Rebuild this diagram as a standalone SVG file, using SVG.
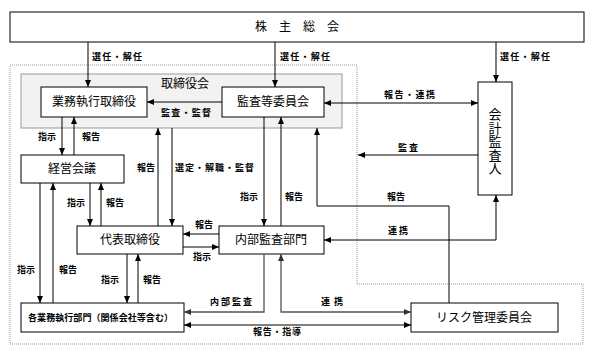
<svg xmlns="http://www.w3.org/2000/svg" width="595" height="363" viewBox="0 0 595 363">
<defs>
<marker id="ah" markerUnits="userSpaceOnUse" markerWidth="7" markerHeight="6" refX="7" refY="3" orient="auto-start-reverse"><path d="M0,0 L7,3 L0,6 z" fill="#000"/></marker>
<marker id="ahg" markerUnits="userSpaceOnUse" markerWidth="7" markerHeight="6" refX="7" refY="3" orient="auto-start-reverse"><path d="M0,0 L7,3 L0,6 z" fill="#333"/></marker>
</defs>
<style>
.box{fill:#fff;stroke:#000;stroke-width:1}
.nt{font-family:"Noto Sans CJK JP","Noto Sans",sans-serif;font-size:12px;fill:#000;text-anchor:middle}
.lb{font-family:"Noto Sans CJK JP","Noto Sans",sans-serif;font-size:9px;font-weight:bold;fill:#000}
.c{fill:none;stroke:#000;stroke-width:1;marker-end:url(#ah)}
.c2{fill:none;stroke:#000;stroke-width:1;marker-start:url(#ah);marker-end:url(#ah)}
.g2{fill:none;stroke:#555;stroke-width:1.3;marker-start:url(#ahg);marker-end:url(#ahg)}
.g1{fill:none;stroke:#555;stroke-width:1.3;marker-end:url(#ahg)}
</style>
<rect width="595" height="363" fill="#fff"/>
<g id="region">
<path d="M10,65 H357 V284 H583 V344 H10 Z" fill="none" stroke="#999" stroke-width="1" stroke-dasharray="1 1"/>
</g>
<g id="torishimariyakukai">
<rect x="21" y="74" width="321" height="54" fill="#f2f2f2" stroke="#999" stroke-width="1"/>
<text class="nt" x="185" y="88">取締役会</text>
</g>
<g id="kabunushi">
<rect class="box" x="10" y="12" width="574" height="30"/>
<text class="nt" x="297" y="31">株　主　総　会</text>
</g>
<g id="gyomu-torishimari">
<rect class="box" x="41" y="87" width="106" height="30"/>
<text class="nt" x="94" y="106">業務執行取締役</text>
</g>
<g id="kansa-iinkai">
<rect class="box" x="222" y="87" width="102" height="30"/>
<text class="nt" x="273" y="106">監査等委員会</text>
</g>
<g id="kaikei">
<rect class="box" x="478" y="82" width="34" height="113"/>
<text x="495" y="108" font-family="'Noto Sans CJK JP','Noto Sans',sans-serif" font-size="13" writing-mode="vertical-rl" letter-spacing="0.5" fill="#000">会計監査人</text>
</g>
<g id="keiei-kaigi">
<rect class="box" x="21" y="155" width="103" height="28"/>
<text class="nt" x="72" y="173">経営会議</text>
</g>
<g id="daihyo">
<rect class="box" x="77" y="226" width="106" height="28"/>
<text class="nt" x="130" y="244">代表取締役</text>
</g>
<g id="naibu-kansa">
<rect class="box" x="219" y="226" width="105" height="28"/>
<text class="nt" x="271" y="244">内部監査部門</text>
</g>
<g id="kaku-gyomu">
<rect class="box" x="21" y="303" width="163" height="29"/>
<text class="lb" x="28" y="321" textLength="145" lengthAdjust="spacing" font-weight="normal">各業務執行部門（関係会社等含む）</text>
</g>
<g id="risk">
<rect class="box" x="411" y="303" width="147" height="29"/>
<text class="nt" x="484" y="322">リスク管理委員会</text>
</g>
<g id="connectors">
<path class="c" d="M88,42 V87"/>
<path class="c" d="M275,42 V87"/>
<path class="c" d="M496,42 V82"/>
<path class="c" d="M222,102 H147"/>
<path class="c2" d="M324,103 H478"/>
<path class="c" d="M478,155 H358"/>
<path class="c" d="M62,117 V155"/>
<path class="c" d="M74,155 V117"/>
<path class="c" d="M90,183 V226"/>
<path class="c" d="M101,226 V183"/>
<path class="c" d="M158,226 V128"/>
<path class="c" d="M172,128 V226"/>
<path class="c" d="M264,117 V226"/>
<path class="c" d="M281,226 V117"/>
<path class="c" d="M449,303 V206 H317 V128"/>
<path class="c2" d="M324,240 H496 V195"/>
<path class="c" d="M219,234 H183"/>
<path class="c" d="M183,247 H219"/>
<path class="c" d="M40,183 V303"/>
<path class="c" d="M53,303 V183"/>
<path class="c" d="M127,254 V303"/>
<path class="c" d="M138,303 V254"/>
<path class="g1" d="M264,254 V312 H184"/>
<path class="g2" d="M411,312 H281 V254"/>
<path class="c2" d="M184,325 H411"/>
</g>
<g id="labels">
<text class="lb" x="92" y="60" textLength="50" lengthAdjust="spacing">選任・解任</text>
<text class="lb" x="280" y="60" textLength="50" lengthAdjust="spacing">選任・解任</text>
<text class="lb" x="500" y="60" textLength="50" lengthAdjust="spacing">選任・解任</text>
<text class="lb" x="161" y="116" textLength="50" lengthAdjust="spacing">監査・監督</text>
<text class="lb" x="384" y="98" textLength="51" lengthAdjust="spacing">報告・連携</text>
<text class="lb" x="398" y="151" textLength="20" lengthAdjust="spacing">監査</text>
<text class="lb" x="38" y="140">指示</text>
<text class="lb" x="82" y="140">報告</text>
<text class="lb" x="137" y="171">報告</text>
<text class="lb" x="175" y="171" textLength="79" lengthAdjust="spacing">選定・解職・監督</text>
<text class="lb" x="67" y="206">指示</text>
<text class="lb" x="106" y="206">報告</text>
<text class="lb" x="240" y="200">指示</text>
<text class="lb" x="285" y="200">報告</text>
<text class="lb" x="387" y="200">報告</text>
<text class="lb" x="195" y="228">報告</text>
<text class="lb" x="193" y="260">指示</text>
<text class="lb" x="388" y="234" textLength="20" lengthAdjust="spacing">連携</text>
<text class="lb" x="17" y="273">指示</text>
<text class="lb" x="59" y="273">報告</text>
<text class="lb" x="101" y="283">指示</text>
<text class="lb" x="143" y="283">報告</text>
<text class="lb" x="210" y="305" textLength="42" lengthAdjust="spacing">内部監査</text>
<text class="lb" x="321" y="305" textLength="22" lengthAdjust="spacing">連携</text>
<text class="lb" x="253" y="335" textLength="48" lengthAdjust="spacing">報告・指導</text>
</g>
</svg>
